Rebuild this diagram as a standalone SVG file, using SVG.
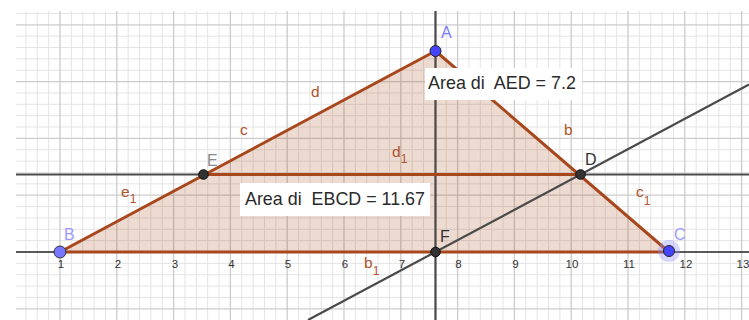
<svg xmlns="http://www.w3.org/2000/svg" width="749" height="320" viewBox="0 0 749 320">
<style>
.minor{stroke:#e4e4e4;stroke-width:1;fill:none}
.major{stroke:#cccccc;stroke-width:1.3;fill:none}
.fillp{fill:#993300;fill-opacity:0.18;stroke:none}
.seg{stroke:#a8471c;stroke-width:3;stroke-linecap:round;fill:none}
.line{stroke:#4a4a4a;stroke-width:2.2;fill:none}
.axis{stroke:#222;stroke-width:1.5;fill:none}
.lbl{font-family:"Liberation Sans",Arial,sans-serif;font-size:16px}
.slbl{font-family:"Liberation Sans",Arial,sans-serif;font-size:15.5px}
.brown{fill:#b0532a}
.sub{font-size:12px}
.num{font-family:"Liberation Sans",Arial,sans-serif;font-size:11.5px;fill:#333;text-anchor:middle}
.box{fill:#fff;stroke:none}
.boxt{font-family:"Liberation Sans",Arial,sans-serif;font-size:17.8px;fill:#2a2a2a}
.blue{fill:#4545ff;stroke:#222;stroke-width:1}
.dark{fill:#333;stroke:#111;stroke-width:1}
</style>
<rect x="0" y="0" width="749" height="320" fill="#fff"/>
<g id="grid">
<path class="minor" d="M25.92 11V320M37.28 11V320M48.64 11V320M71.36 11V320M82.72 11V320M94.08 11V320M105.44 11V320M128.16 11V320M139.52 11V320M150.88 11V320M162.24 11V320M184.96 11V320M196.32 11V320M207.68 11V320M219.04 11V320M241.76 11V320M253.12 11V320M264.48 11V320M275.84 11V320M298.56 11V320M309.92 11V320M321.28 11V320M332.64 11V320M355.36 11V320M366.72 11V320M378.08 11V320M389.44 11V320M412.16 11V320M423.52 11V320M434.88 11V320M446.24 11V320M468.96 11V320M480.32 11V320M491.68 11V320M503.04 11V320M525.76 11V320M537.12 11V320M548.48 11V320M559.84 11V320M582.56 11V320M593.92 11V320M605.28 11V320M616.64 11V320M639.36 11V320M650.72 11V320M662.08 11V320M673.44 11V320M696.16 11V320M707.52 11V320M718.88 11V320M730.24 11V320"/>
<path class="minor" d="M16 13.44H749M16 36.16H749M16 47.52H749M16 58.88H749M16 70.24H749M16 92.96H749M16 104.32H749M16 115.68H749M16 127.04H749M16 149.76H749M16 161.12H749M16 172.48H749M16 183.84H749M16 206.56H749M16 217.92H749M16 229.28H749M16 240.64H749M16 263.36H749M16 274.72H749M16 286.08H749M16 297.44H749"/>
<path class="major" d="M60 11V320M116.8 11V320M173.6 11V320M230.4 11V320M287.2 11V320M344 11V320M400.8 11V320M457.6 11V320M514.4 11V320M571.2 11V320M628 11V320M684.8 11V320M741.6 11V320"/>
<path class="major" d="M16 24.8H749M16 81.6H749M16 138.4H749M16 195.2H749M16 308.8H749"/>
</g>
<g id="poly-AED"><polygon class="fillp" points="435.5,51 203.5,174.5 580.5,174.5"/></g>
<g id="poly-EBCD"><polygon class="fillp" points="203.5,174.5 60,252 669,252 580.5,174.5"/></g>
<g id="connectors">
<line class="axis" x1="16" y1="252" x2="749" y2="252"/>
<line class="line" x1="16" y1="174.5" x2="749" y2="174.5"/>
<line class="line" x1="435.5" y1="11" x2="435.5" y2="320"/>
<line class="line" x1="308" y1="320" x2="749" y2="84.5"/>
<line class="seg" x1="435.5" y1="51" x2="60" y2="252"/>
<line class="seg" x1="435.5" y1="51" x2="669" y2="252"/>
<line class="seg" x1="60" y1="252" x2="669" y2="252"/>
<line class="seg" x1="203.5" y1="174.5" x2="580.5" y2="174.5"/>
</g>
<g id="axis-labels">
<text class="num" x="61" y="268">1</text>
<text class="num" x="118" y="268">2</text>
<text class="num" x="175" y="268">3</text>
<text class="num" x="231.5" y="268">4</text>
<text class="num" x="288" y="268">5</text>
<text class="num" x="345" y="268">6</text>
<text class="num" x="402" y="268">7</text>
<text class="num" x="458.5" y="268">8</text>
<text class="num" x="515.5" y="268">9</text>
<text class="num" x="572" y="268">10</text>
<text class="num" x="629" y="268">11</text>
<text class="num" x="686" y="268">12</text>
<text class="num" x="743" y="268">13</text>
</g>
<g id="segment-labels" class="slbl brown">
<text x="311" y="97">d</text>
<text x="240" y="135">c</text>
<text x="392" y="157">d<tspan class="sub" dy="6">1</tspan></text>
<text x="564" y="135">b</text>
<text x="121" y="197">e<tspan class="sub" dy="6">1</tspan></text>
<text x="636" y="197">c<tspan class="sub" dy="8">1</tspan></text>
<text x="364" y="268">b<tspan class="sub" dy="7">1</tspan></text>
</g>
<g id="box-AED">
<rect class="box" x="425" y="68" width="157" height="32"/>
<text class="boxt" x="428" y="89" textLength="148" lengthAdjust="spacingAndGlyphs" xml:space="preserve">Area di  AED = 7.2</text>
</g>
<g id="box-EBCD">
<rect class="box" x="240" y="183" width="190" height="33"/>
<text class="boxt" x="245" y="205" textLength="180" lengthAdjust="spacingAndGlyphs" xml:space="preserve">Area di  EBCD = 11.67</text>
</g>
<g id="point-A">
<circle class="blue" cx="435.5" cy="51" r="5.5"/>
<text class="lbl" x="441" y="38" fill="#7b7bff">A</text>
</g>
<g id="point-B">
<circle cx="60" cy="252" r="6" fill="#7676ff" stroke="#333" stroke-width="1"/>
<text class="lbl" x="64" y="240" fill="#9c9cff">B</text>
</g>
<g id="point-C">
<circle cx="669" cy="251" r="11" fill="#8c8cff" fill-opacity="0.35"/>
<circle class="blue" cx="669" cy="251" r="5.5"/>
<text class="lbl" x="674" y="240" fill="#9c9cff">C</text>
</g>
<g id="point-E">
<circle class="dark" cx="203.5" cy="174.5" r="4.8"/>
<text class="lbl" x="207" y="166" fill="#8a8a8a">E</text>
</g>
<g id="point-D">
<circle class="dark" cx="580.5" cy="174.5" r="4.8"/>
<text class="lbl" x="585" y="165" fill="#333">D</text>
</g>
<g id="point-F">
<circle class="dark" cx="435.5" cy="252" r="4.8"/>
<text class="lbl" x="440" y="242" fill="#333">F</text>
</g>
</svg>
